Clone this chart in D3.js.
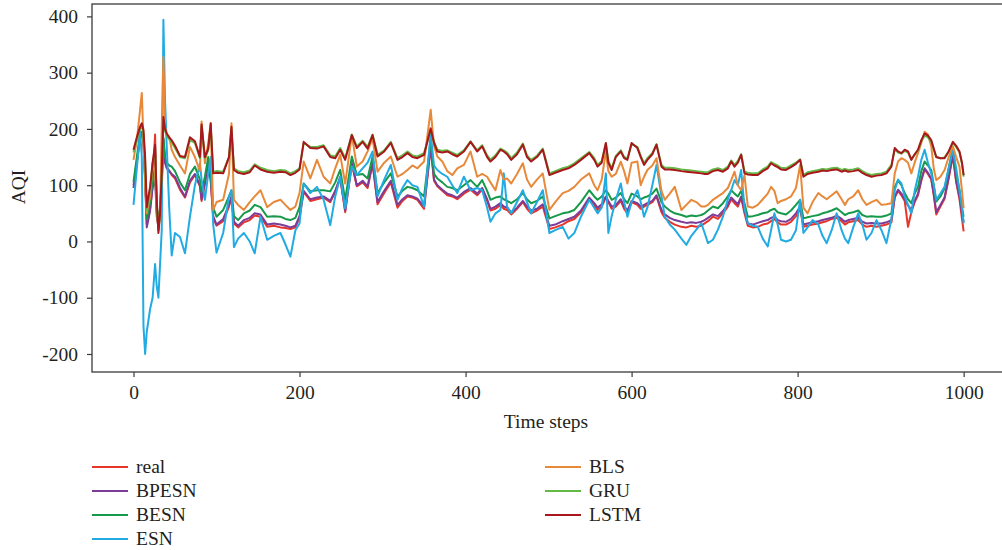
<!DOCTYPE html>
<html><head><meta charset="utf-8">
<script src="https://cdn.jsdelivr.net/npm/d3@7"></script>
<style>
body{margin:0;background:#fff;}
text{font-family:"Liberation Serif","DejaVu Serif",serif;fill:#231f20;}
</style>
</head><body>
<svg id="c" width="1002" height="550"></svg>
<script>
const T=[0,4,8,10,12,14,16,18,20,23,
26,28,30,32,34,36,38,40,43,46,
50,56,62,68,74,80,82,86,90,93,
96,100,108,115,118,121,126,133,140,146,
153,161,169,177,183,189,195,200,205,213,
221,229,237,243,249,255,263,269,276,282,
288,294,302,310,318,324,330,336,342,350,
358,362,366,372,378,384,390,398,406,414,
420,426,430,436,442,446,450,455,462,469,
474,479,486,493,501,508,517,524,531,539,
549,555,559,564,569,572,576,581,587,591,
595,600,607,611,615,619,625,630,636,640,
646,652,660,666,672,678,684,688,692,698,
704,710,716,720,724,728,732,736,740,746,
752,758,764,768,772,776,780,786,792,798,
803,807,812,818,825,830,835,841,847,853,
857,861,867,873,878,883,889,895,901,907,
913,917,921,925,929,933,937,941,945,949,
953,957,961,964,967,972,977,982,987,991,
995,998,1000];

const realV=[100,140,188,193,178,112,30,42,58,100,
190,50,28,52,105,182,142,132,126,118,
112,92,78,105,118,98,72,102,138,108,
42,28,36,62,78,32,25,34,38,46,
44,26,28,25,24,22,25,42,88,72,
75,78,70,88,112,52,138,98,105,95,
138,66,86,105,60,72,80,78,74,58,
168,108,98,90,82,80,75,85,92,82,
92,72,55,58,65,58,56,48,58,70,
58,50,55,62,22,25,30,36,40,52,
75,64,56,62,78,70,58,62,72,58,
50,70,65,58,62,65,70,80,52,42,
35,30,26,25,28,26,28,32,36,44,
40,50,62,75,68,62,78,50,28,25,
26,30,32,36,40,34,30,30,35,45,
58,26,28,30,32,34,36,40,42,36,
30,34,36,38,30,26,28,26,28,30,
34,78,90,82,72,26,52,70,82,108,
128,120,110,82,48,62,76,112,152,105,
75,40,18];

const bpesnV=[95,140,185,190,175,110,25,40,55,95,
110,45,25,50,100,180,140,130,125,120,
115,95,80,108,120,100,75,105,140,110,
45,30,40,65,80,35,28,38,42,50,
48,30,32,30,28,25,28,45,90,75,
78,80,72,90,115,55,140,100,108,98,
140,70,90,108,65,75,82,80,76,62,
170,110,100,92,85,82,78,88,95,85,
95,75,58,62,68,62,60,52,60,72,
62,55,58,66,28,30,36,40,44,55,
78,68,60,66,80,72,62,65,75,62,
55,72,68,62,65,68,72,82,56,48,
42,38,35,33,34,33,35,38,42,48,
45,54,66,78,72,66,80,55,32,30,
33,36,38,42,44,38,36,35,40,50,
62,30,32,34,36,38,40,42,46,40,
35,38,40,42,35,32,33,32,32,34,
38,80,92,85,75,64,56,72,85,110,
130,122,112,85,52,65,78,115,155,108,
80,50,35];

const besnV=[106,150,192,195,180,120,40,55,70,110,
125,60,35,60,110,185,150,140,135,133,
125,105,91,120,133,110,88,115,150,120,
60,44,56,80,91,45,38,50,55,65,
61,44,45,44,40,38,42,61,103,89,
91,91,89,105,127,74,151,118,120,112,
151,86,105,121,80,90,97,95,91,80,
180,120,112,105,97,95,91,100,109,97,
109,90,74,78,80,75,72,68,75,86,
75,68,72,80,41,45,50,52,56,70,
91,80,74,80,91,85,74,78,86,75,
68,85,80,75,78,80,85,94,70,62,
55,50,47,44,46,45,47,50,55,62,
59,68,80,91,85,80,90,68,44,45,
47,50,52,56,58,52,50,48,55,65,
74,41,43,45,47,50,52,55,59,52,
47,50,52,55,47,44,45,44,44,46,
50,97,109,100,86,75,68,85,97,125,
142,135,127,100,71,80,94,130,166,120,
91,60,44];

const esnV=[65,130,195,150,-150,-200,-160,-140,-120,-100,
-40,-80,-100,-40,20,394,250,170,60,-25,
15,8,-21,44,100,139,110,74,120,150,
30,-20,15,80,91,-10,5,15,0,-21,
44,3,10,15,-5,-27,20,32,103,86,
97,74,29,80,115,59,133,118,130,140,
160,80,110,136,74,95,109,100,97,62,
192,135,127,120,115,100,86,115,91,95,
91,60,35,50,56,121,62,50,70,91,
70,50,70,91,15,20,26,5,15,44,
74,60,50,60,121,15,45,74,103,70,
44,70,91,70,44,60,100,136,80,44,
30,21,5,-6,10,21,32,15,-3,3,
21,44,75,91,109,100,127,60,32,28,
26,5,-9,20,50,30,3,0,3,20,
74,15,25,38,30,10,-3,20,50,20,
5,-3,25,50,30,3,15,38,20,-3,
40,91,110,103,80,65,50,90,115,145,
163,140,121,100,74,85,97,130,163,130,
91,60,32];

const blsV=[145,180,235,264,180,100,50,65,80,140,
121,60,20,50,200,328,204,190,186,163,
150,135,121,168,150,125,213,139,175,210,
56,70,74,120,210,74,65,56,70,80,
91,61,70,74,65,56,62,86,142,112,
145,115,103,130,154,103,189,133,142,160,
183,124,140,151,115,120,127,135,130,142,
234,170,151,142,125,118,130,136,160,115,
120,115,105,91,127,110,112,103,120,139,
110,97,110,121,56,70,86,90,97,110,
121,100,91,110,160,125,115,120,142,125,
103,140,142,100,115,127,135,148,90,74,
85,97,56,65,74,70,62,62,65,74,
80,86,95,109,124,100,91,118,62,60,
65,75,85,97,90,68,72,75,80,95,
136,60,50,70,86,80,75,82,89,75,
65,75,80,91,75,65,70,74,65,66,
68,121,142,148,145,140,121,140,157,175,
195,190,169,130,109,115,127,150,169,150,
133,90,59];

const gruV=[158,180,200,205,192,140,55,75,92,135,
168,70,20,48,118,215,196,188,182,176,
166,150,148,180,175,148,204,148,162,205,
124,125,124,150,200,130,125,123,126,137,
131,127,125,127,126,121,125,130,175,168,
168,171,153,151,166,148,190,169,179,168,
190,154,162,177,148,153,160,153,151,157,
198,177,163,161,162,158,154,162,178,162,
171,153,145,153,165,162,158,148,158,174,
153,145,152,165,121,125,130,133,139,148,
159,148,136,143,174,143,130,152,162,150,
148,173,168,152,139,148,157,173,136,131,
131,130,128,127,126,125,124,123,123,128,
130,127,133,144,136,143,155,124,122,121,
121,128,133,141,138,135,131,130,135,140,
146,118,123,125,127,129,128,130,131,127,
129,127,128,130,125,121,118,120,121,124,
136,164,158,156,161,158,146,154,162,178,
188,185,177,163,150,148,149,160,175,168,
158,138,115];

const lstmV=[163,185,204,210,198,150,61,80,97,140,
172,74,15,50,121,221,200,192,185,180,
170,152,150,185,178,150,208,150,165,210,
121,122,121,150,204,127,122,120,123,135,
128,124,122,124,123,118,122,128,177,166,
165,169,150,148,163,145,189,166,177,165,
189,151,160,175,145,150,157,150,148,154,
201,175,160,158,160,155,151,160,177,160,
169,150,142,150,163,160,155,145,155,172,
150,142,150,163,118,122,127,130,136,145,
157,145,133,140,175,140,127,150,160,148,
145,175,166,150,136,145,155,172,133,128,
128,127,125,124,123,122,121,120,120,125,
127,124,130,142,133,140,154,121,119,118,
118,125,130,139,135,132,128,127,132,138,
145,115,120,122,124,126,125,127,128,124,
126,124,125,127,122,118,115,117,118,121,
133,166,160,157,163,160,145,155,163,180,
192,188,180,165,150,148,148,160,177,170,
160,140,118];

const seriesNames=["real","BPESN","BESN","ESN","BLS","GRU","LSTM"];
const seriesColors=["#e8352a","#7d3c98","#16994a","#22abe3","#e8893a","#62b946","#a8171b"];
const seriesValues=[realV,bpesnV,besnV,esnV,blsV,gruV,lstmV];
const yTicks=[-200,-100,0,100,200,300,400];
const xTicks=[0,200,400,600,800,1000];
const xLabel="Time steps", yLabel="AQI";

const svg=d3.select("#c");
const x=d3.scaleLinear().domain([-50,1045]).range([92,1001]);
const y=d3.scaleLinear().domain([-232,422]).range([372,4]);

// series
const line=d3.line().x((d,i)=>x(T[i])).y(d=>y(d));
seriesValues.forEach((vals,k)=>{
  svg.append("path").datum(vals).attr("d",line)
    .attr("fill","none").attr("stroke",seriesColors[k])
    .attr("stroke-width",2).attr("stroke-linejoin","round");
});

// frame
svg.append("rect").attr("x",92).attr("y",4).attr("width",911).attr("height",368)
  .attr("fill","none").attr("stroke","#3a3a3a").attr("stroke-width",1.3);

const ya=svg.append("g").attr("transform","translate(92,0)")
  .call(d3.axisLeft(y).tickValues(yTicks).tickSize(5).tickPadding(9).tickFormat(d=>String(d)));
const xa=svg.append("g").attr("transform","translate(0,372)")
  .call(d3.axisBottom(x).tickValues(xTicks).tickSize(5).tickPadding(8).tickFormat(d=>String(d)));
[ya,xa].forEach(g=>{
  g.select(".domain").remove();
  g.attr("font-family",null).attr("font-size",null);
  g.selectAll("line").attr("stroke","#3a3a3a").attr("stroke-width",1.2);
  g.selectAll("text").style("font-size","19.5px").attr("fill","#231f20");
});

svg.append("text").attr("transform","translate(25,187) rotate(-90)")
  .attr("text-anchor","middle").style("font-size","19.5px").text(yLabel);
svg.append("text").attr("x",546).attr("y",428)
  .attr("text-anchor","middle").style("font-size","19.5px").text(xLabel);

// legend
const legX=[92,545], legY0=467, legDy=24;
seriesNames.forEach((n,k)=>{
  const col=k<4?0:1, row=k<4?k:k-4;
  const lx=legX[col], ly=legY0+row*legDy;
  svg.append("line").attr("x1",lx).attr("x2",lx+36).attr("y1",ly).attr("y2",ly)
    .attr("stroke",seriesColors[k]).attr("stroke-width",2);
  svg.append("text").attr("x",lx+44).attr("y",ly+6).style("font-size","19.5px").text(n);
});
</script>
</body></html>
